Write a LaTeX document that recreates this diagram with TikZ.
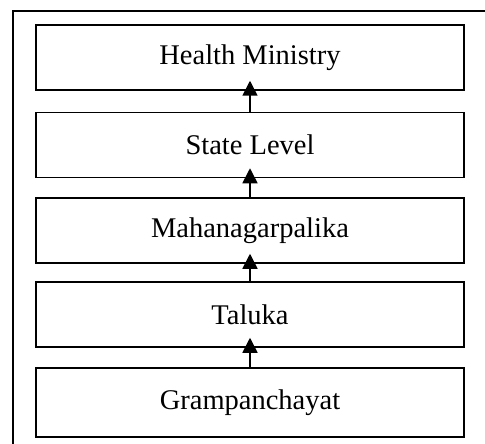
\documentclass[tikz,border=0pt]{standalone}
\usepackage{fontspec}
\setmainfont{Liberation Serif}
\usetikzlibrary{arrows.meta}

\tikzset{
    tierbox/.style={draw, line width=1.5pt, minimum width=428pt, minimum height=65pt,
        inner sep=0pt, font=\fontsize{28.5}{34}\selectfont},
    uparrow/.style={line width=1.5pt, -{Triangle[length=15pt, width=15pt]}, shorten >=-10pt}
}

\begin{document}
\begin{tikzpicture}[x=1pt, y=-1pt]
    \useasboundingbox (0,0) rectangle (485,444);
    \clip (0,0) rectangle (485,444);

    % outer frame (cut at right and bottom)
    \draw[line width=1.5pt] (13,460) -- (13,11) -- (500,11);

    % levels, top to bottom
    \node[tierbox] (health) at (250,57.5) {Health Ministry};
    \node[tierbox] (state)  at (250,145)  {State Level};
    \node[tierbox] (maha)   at (250,230.5) {Mahanagarpalika};
    \node[tierbox] (taluka) at (250,314.5) {Taluka};
    \node[tierbox, minimum height=69pt] (gram) at (250,402.5) {Grampanchayat};

    % arrows point upwards
    \draw[uparrow] (state)  -- (health);
    \draw[uparrow] (maha)   -- (state);
    \draw[uparrow] (taluka) -- (maha);
    \draw[uparrow] (gram)   -- (taluka);
\end{tikzpicture}
\end{document}
